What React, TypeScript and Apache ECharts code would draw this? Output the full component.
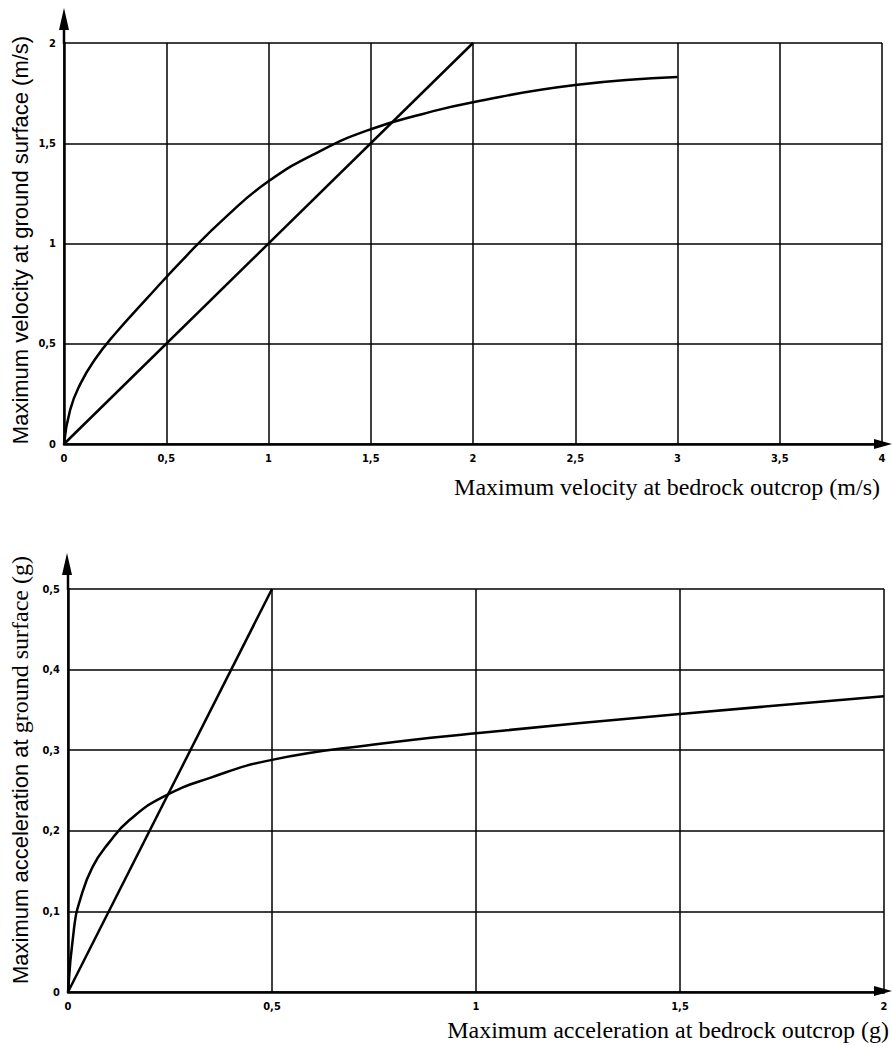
import React, { useEffect, useRef } from "react";
import * as echarts from "echarts";

// Top chart: velocity (m/s)
const velLineX = [0, 2];
const velLineY = [0, 2];
const velCurveX = [0, 0.03, 0.08, 0.15, 0.25, 0.4, 0.6, 0.8, 1.0, 1.25, 1.5, 1.75, 2, 2.5, 3];
const velCurveY = [0, 0.17, 0.3, 0.42, 0.55, 0.72, 0.94, 1.14, 1.31, 1.46, 1.57, 1.645, 1.705, 1.79, 1.83];

// Bottom chart: acceleration (g)
const accLineX = [0, 0.5];
const accLineY = [0, 0.5];
const accCurveX = [0, 0.015, 0.03, 0.06, 0.1, 0.15, 0.233, 0.35, 0.5, 0.75, 1, 1.5, 2];
const accCurveY = [0, 0.08, 0.115, 0.155, 0.185, 0.213, 0.242, 0.266, 0.288, 0.307, 0.321, 0.345, 0.367];

const velTitleX = "Maximum velocity at bedrock outcrop (m/s)";
const velTitleY = "Maximum velocity at ground surface (m/s)";
const accTitleX = "Maximum acceleration at bedrock outcrop (g)";
const accTitleYa = "Maximum acceleration at ";
const accTitleYb = "ground surface (g)";

const zip = (xs: number[], ys: number[]) => xs.map((x, i) => [x, ys[i]]);
const fmt = (v: number) => String(+v.toFixed(2)).replace(".", ",");

export default function App() {
  const ref = useRef<HTMLDivElement>(null);
  useEffect(() => {
    document.body.style.margin = "0";
    const chart = echarts.init(ref.current!, null, { renderer: "svg" });
    const axisLabel = {
      color: "#000",
      fontFamily: "'Liberation Sans Narrow', 'DejaVu Sans Condensed', sans-serif",
      fontWeight: "bold" as const,
      fontSize: 11,
      formatter: (v: number) => fmt(v),
      showMaxLabel: true,
      showMinLabel: true,
    };
    const splitLine = { show: true, lineStyle: { color: "#000", width: 1.5 } };
    const axisLine = { show: true, onZero: false, lineStyle: { color: "#000", width: 2.5 } };
    const xBase = (gi: number, max: number) => ({
      type: "value" as const,
      gridIndex: gi,
      min: 0,
      max,
      interval: 0.5,
      axisLine,
      axisTick: { show: false },
      axisLabel: { ...axisLabel, margin: 9 },
      splitLine,
    });
    const yBase = (gi: number, max: number, interval: number) => ({
      type: "value" as const,
      gridIndex: gi,
      min: 0,
      max,
      interval,
      axisLine,
      axisTick: { show: false },
      axisLabel: { ...axisLabel, margin: 8 },
      splitLine,
    });
    const lineSeries = (xi: number, data: number[][], smooth: number | boolean) => ({
      type: "line" as const,
      xAxisIndex: xi,
      yAxisIndex: xi,
      data,
      smooth,
      showSymbol: false,
      symbol: "none",
      lineStyle: { color: "#000", width: 2.5 },
    });
    const serif = "'Liberation Serif', 'Times New Roman', serif";
    const sans = "'Liberation Sans', Arial, sans-serif";
    chart.setOption({
      animation: false,
      backgroundColor: "#fff",
      grid: [
        { left: 64, top: 43, width: 818, height: 401 },
        { left: 68, top: 589, width: 816, height: 403 },
      ],
      xAxis: [xBase(0, 4), xBase(1, 2)],
      yAxis: [yBase(0, 2, 0.5), yBase(1, 0.5, 0.1)],
      series: [
        lineSeries(0, zip(velLineX, velLineY), false),
        lineSeries(0, zip(velCurveX, velCurveY), 0.5),
        lineSeries(1, zip(accLineX, accLineY), false),
        lineSeries(1, zip(accCurveX, accCurveY), 0.5),
      ],
      graphic: [
        // top y arrow
        { type: "line", shape: { x1: 64, y1: 44, x2: 64, y2: 26 }, style: { stroke: "#000", lineWidth: 2.5 } },
        { type: "polygon", shape: { points: [[64, 8], [59, 30], [69, 30]] }, style: { fill: "#000" } },
        // top x arrow
        { type: "polygon", shape: { points: [[892, 444], [874, 439], [874, 449]] }, style: { fill: "#000" } },
        // bottom y arrow
        { type: "line", shape: { x1: 68, y1: 590, x2: 68, y2: 570 }, style: { stroke: "#000", lineWidth: 2.5 } },
        { type: "polygon", shape: { points: [[67, 553], [62, 575], [72, 575]] }, style: { fill: "#000" } },
        // bottom x arrow
        { type: "polygon", shape: { points: [[892, 991], [874, 986], [874, 996]] }, style: { fill: "#000" } },
        // titles
        {
          type: "text",
          x: 880,
          y: 487,
          style: { text: velTitleX, font: `24px ${serif}`, fill: "#000", textAlign: "right", textVerticalAlign: "middle" },
        },
        {
          type: "text",
          x: 20,
          y: 240,
          rotation: Math.PI / 2,
          style: { text: velTitleY, font: `22px ${sans}`, fill: "#000", textAlign: "center", textVerticalAlign: "middle" },
        },
        {
          type: "text",
          x: 889,
          y: 1030,
          style: { text: accTitleX, font: `24px ${serif}`, fill: "#000", textAlign: "right", textVerticalAlign: "middle" },
        },
        {
          type: "text",
          x: 20,
          y: 770,
          rotation: Math.PI / 2,
          style: {
            text: `{a|${accTitleYa}}{b|${accTitleYb}}`,
            textAlign: "center",
            textVerticalAlign: "middle",
            rich: {
              a: { fontFamily: sans, fontSize: 22, color: "#000" },
              b: { fontFamily: serif, fontSize: 24, color: "#000" },
            },
          },
        },
      ],
    });
    return () => chart.dispose();
  }, []);
  return <div ref={ref} style={{ width: 892, height: 1047 }} />;
}
